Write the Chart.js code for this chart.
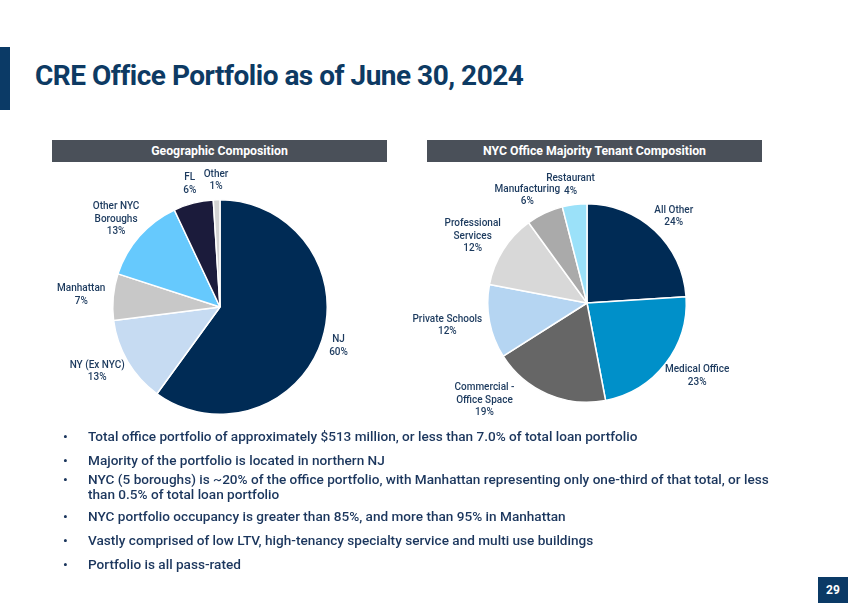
<!DOCTYPE html>
<html>
<head>
<meta charset="utf-8">
<script src="https://cdn.jsdelivr.net/npm/chart.js@4.4.0/dist/chart.umd.min.js"></script>
<style>
  body { margin:0; width:850px; height:607px; background:#fff; position:relative; overflow:hidden; font-family:Roboto, "Noto Sans", sans-serif; }
  .sidebar { position:absolute; left:0; top:47px; width:10px; height:63px; background:#0b3a66; }
  .title { position:absolute; left:35px; top:61px; font-size:28px; line-height:30px; font-weight:700; color:#0d3a63; letter-spacing:-0.5px; }
  .head { position:absolute; top:140px; height:22px; width:335px; background:#4a5059; color:#fff; font-size:12.3px; font-weight:700; text-align:center; line-height:22px; }
  canvas.pie { position:absolute; left:0; top:0; }
  ul { position:absolute; left:62px; top:429px; margin:0; padding:0; list-style:none; width:720px; color:#1b365d; font-size:13.6px; font-weight:500; }
  li { position:relative; padding-left:26px; line-height:15px; margin-bottom:9px; }
  li:before { content:"\2022"; position:absolute; left:1px; top:0; }
  .page { position:absolute; left:818px; top:577px; width:30px; height:26px; background:#0b3a66; color:#fff; font-size:12px; font-weight:700; text-align:center; line-height:26px; }
</style>
</head>
<body>
<div class="sidebar"></div>
<div class="title">CRE Office Portfolio as of June 30, 2024</div>
<div class="head" style="left:52px">Geographic Composition</div>
<div class="head" style="left:427px">NYC Office Majority Tenant Composition</div>
<canvas id="geoChart" class="pie" width="850" height="607"></canvas>
<canvas id="tenantChart" class="pie" width="850" height="607"></canvas>
<ul>
  <li>Total office portfolio of approximately $513 million, or less than 7.0% of total loan portfolio</li>
  <li style="margin-bottom:4px">Majority of the portfolio is located in northern NJ</li>
  <li style="margin-bottom:7px">NYC (5 boroughs) is ~20% of the office portfolio, with Manhattan representing only one-third of that total, or less than 0.5% of total loan portfolio</li>
  <li>NYC portfolio occupancy is greater than 85%, and more than 95% in Manhattan</li>
  <li>Vastly comprised of low LTV, high-tenancy specialty service and multi use buildings</li>
  <li>Portfolio is all pass-rated</li>
</ul>
<div class="page">29</div>

<script>
// 지역별 구성
const geoLabels = ['NJ', 'NY (Ex NYC)', 'Manhattan', 'Other NYC\nBoroughs', 'FL', 'Other'];
const geoValues = [60, 13, 7, 13, 6, 1];
const geoColors = ['#002b55', '#c6dbf2', '#c8c8c8', '#66c9fd', '#1b1b3b', '#d3d3d3'];

// 테넌트 구성
const tenantLabels = ['All Other', 'Medical Office', 'Commercial -\nOffice Space', 'Private Schools', 'Professional\nServices', 'Manufacturing', 'Restaurant'];
const tenantValues = [24, 23, 19, 12, 12, 6, 4];
const tenantColors = ['#002b55', '#0090c9', '#666666', '#b5d5f2', '#d8d8d8', '#aaaaaa', '#9be1f9'];

// 바깥쪽 라벨 그리기 (아래쪽 한계를 넘으면 위로 올리고 옆으로 밀어냄)
const outLabels = {
  id: 'outLabels',
  afterDatasetsDraw(chart) {
    const ctx = chart.ctx;
    const meta = chart.getDatasetMeta(0);
    const names = chart.data.labels;
    const vals = chart.data.datasets[0].data;
    const maxY = chart.options.labelMaxY;
    ctx.save();
    ctx.font = '500 10px Roboto';
    ctx.fillStyle = '#1c3a5e';
    ctx.textAlign = 'center';
    ctx.textBaseline = 'middle';
    const lh = 12.5;
    meta.data.forEach(function(arc, i) {
      const p = arc.getProps(['x', 'y', 'startAngle', 'endAngle', 'outerRadius'], true);
      const mid = (p.startAngle + p.endAngle) / 2;
      const dx = Math.cos(mid), dy = Math.sin(mid);
      const lines = names[i].split('\n').concat([vals[i] + '%']);
      let w = 0;
      lines.forEach(function(t){ w = Math.max(w, ctx.measureText(t).width); });
      const h = lines.length * lh - 2;
      const r = p.outerRadius + 8;
      let cx = p.x + dx * r + dx * w / 2;
      let cy = p.y + dy * r + dy * h / 2;
      if (cy + h / 2 > maxY) {
        cy = maxY - h / 2;
        const side = dx < 0 ? -1 : 1;
        // 상자가 원과 겹치지 않을 때까지 옆으로
        for (let s = 0; s < 200; s++) {
          const nx = Math.max(cx - w / 2, Math.min(p.x, cx + w / 2));
          const ny = Math.max(cy - h / 2, Math.min(p.y, cy + h / 2));
          if (Math.hypot(nx - p.x, ny - p.y) >= r) break;
          cx += side;
        }
      }
      lines.forEach(function(t, k){
        ctx.fillText(t, cx, cy - h / 2 + lh / 2 - 1 + k * lh);
      });
    });
    ctx.restore();
  }
};

function makePie(id, labels, values, colors, pad, maxY) {
  return new Chart(document.getElementById(id), {
    type: 'pie',
    data: {
      labels: labels,
      datasets: [{
        data: values,
        backgroundColor: colors,
        borderColor: '#ffffff',
        borderWidth: 1.5
      }]
    },
    options: {
      responsive: false,
      animation: false,
      labelMaxY: maxY,
      layout: { padding: pad },
      plugins: { legend: { display: false }, tooltip: { enabled: false } }
    },
    plugins: [outLabels]
  });
}

const geoChart = makePie('geoChart', geoLabels, geoValues, geoColors,
  { left: 112, right: 522, top: 199, bottom: 192 }, 420);
const tenantChart = makePie('tenantChart', tenantLabels, tenantValues, tenantColors,
  { left: 487, right: 163, top: 203, bottom: 204 }, 418);
</script>
</body>
</html>
